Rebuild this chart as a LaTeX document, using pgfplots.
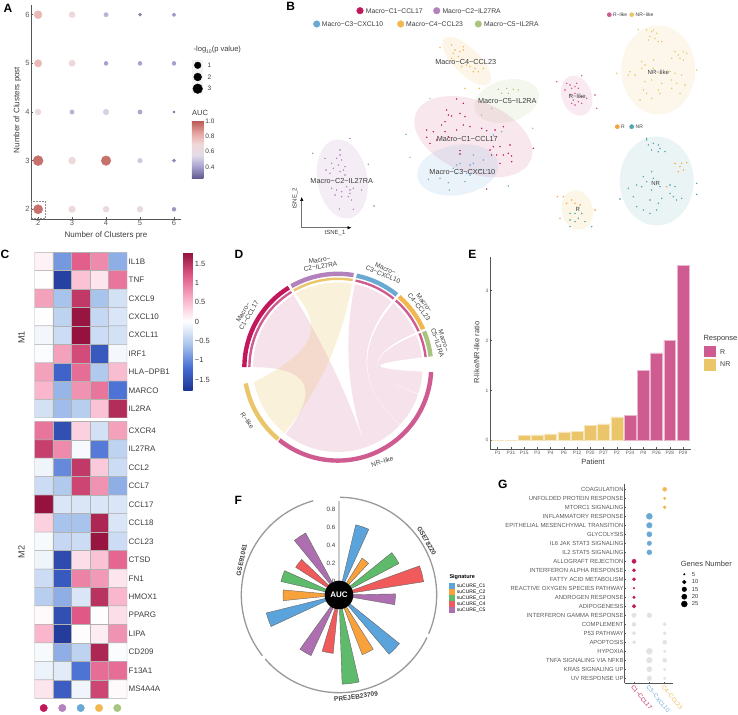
\documentclass[border=0pt]{standalone}
\usepackage{fontspec}
\setmainfont{Liberation Sans}
\usepackage{pgfplots}
\pgfplotsset{compat=1.18}
\usepgfplotslibrary{polar}
\usetikzlibrary{arrows.meta}

\definecolor{c1}{RGB}{194,24,91}
\definecolor{c2}{RGB}{179,129,188}
\definecolor{c3}{RGB}{106,169,211}
\definecolor{c4}{RGB}{242,184,79}
\definecolor{c5}{RGB}{169,196,127}
\definecolor{rl}{RGB}{207,92,145}
\definecolor{nrl}{RGB}{235,197,106}
\definecolor{ror}{RGB}{249,162,60}
\definecolor{nrt}{RGB}{82,163,174}
\definecolor{txt}{RGB}{60,60,60}
\definecolor{tck}{RGB}{90,90,90}
\definecolor{axl}{RGB}{85,85,85}
\definecolor{hmg}{RGB}{178,178,178}
\definecolor{greyd}{RGB}{226,226,226}
\definecolor{fb}{RGB}{91,163,219}
\definecolor{fo}{RGB}{249,162,60}
\definecolor{fg}{RGB}{93,187,107}
\definecolor{fr}{RGB}{240,90,90}
\definecolor{fp}{RGB}{173,111,176}

\newcommand{\fs}[1]{\fontsize{#1}{#1}\selectfont}

\pgfplotsset{
  /pgf/number format/assume math mode=true,
  every non boxed x axis/.append style={x axis line style=-},
  every non boxed y axis/.append style={y axis line style=-},
  colormap={auc}{rgb255=(95,90,140) rgb255=(165,160,205) rgb255=(225,220,232) rgb255=(240,215,215) rgb255=(228,160,155) rgb255=(185,90,85)},
  colormap={hm}{rgb255=(30,53,148) rgb255=(71,110,212) rgb255=(170,197,236) rgb255=(255,255,255) rgb255=(248,175,199) rgb255=(224,88,134) rgb255=(148,16,60)},
  sized/.style={only marks, mark=*,
    visualization depends on={\thisrow{r} \as \rr},
    scatter/@pre marker code/.append style={/tikz/mark size=\rr pt}},
  hm panel/.style={scale only axis, width=92.3pt, xmin=-0.5, xmax=4.5,
    y dir=reverse, xtick=\empty, ytick pos=right, axis line style={draw=none},
    major tick length=0pt, yticklabel style={font=\fs{8}, text=txt, inner sep=1.5pt},
    colormap name=hm, point meta min=-1.78, point meta max=1.79},
  cell/.style={matrix plot*, mesh/cols=5, point meta=explicit, draw=hmg, line width=0.5pt},
  legdot/.style={only marks, mark=*, mark size=#1pt},
}
\tikzset{pxs/.style={x=1pt,y=-1pt,yshift=714pt},
  lab/.style={text=txt,inner sep=0pt},
  letter/.style={font=\fs{12}\bfseries,inner sep=0pt}}
\newcommand{\ring}[5]{\draw[#5,line width=#4pt] (#1:#3) arc[start angle=#1,end angle=#2,radius=#3];}
\newcommand{\chord}[5]{\fill[#5,fill opacity=0.18] (#1:84.8) arc[start angle=#1,end angle=#2,radius=84.8]
  .. controls (#2:28.3) and (#3:28.3) .. (#3:84.8) arc[start angle=#3,end angle=#4,radius=84.8]
  .. controls (#4:28.3) and (#1:28.3) .. (#1:84.8) -- cycle;}

\begin{document}
\begin{tikzpicture}
\path[use as bounding box] (0,0) rectangle (738pt,714pt);

% A
\begin{axis}[at={(31.3pt,495pt)},anchor=south west,scale only axis,width=149.4pt,height=214pt,
  xmin=1.8,xmax=6.197,ymin=1.8,ymax=6.2,axis x line*=bottom,axis y line*=left,
  axis line style={color=axl,line width=0.9pt},xtick={2,...,6},ytick={2,...,6},
  tick style={color=axl,line width=0.5pt},major tick length=2pt,
  tick label style={font=\fs{7.5},text=tck,inner sep=1.5pt},
  colormap name=auc,point meta min=0.25,point meta max=1,clip=false,
  colorbar,colorbar style={at={(1.0756,0.459)},anchor=north west,scale only axis,width=11.3pt,height=57.6pt,
    ytick={0.4,0.6,0.8,1},yticklabels={0.4,0.6,0.8,1.0},axis line style={draw=none},major tick length=0pt,
    yticklabel style={font=\fs{6.5},text=txt,inner sep=2pt}}]
\addplot[scatter,point meta=explicit,scatter/use mapped color={draw=mapped color,fill=mapped color},sized] table[x=x,y=y,meta=auc]{
x y r auc
2 6 4.0 0.78
3 6 3.0 0.68
4 6 2.2 0.45
5 6 1.5 0.33
6 6 1.8 0.38
2 5 3.7 0.78
3 5 3.2 0.68
4 5 2.0 0.40
5 5 2.0 0.40
6 5 2.0 0.40
2 4 3.0 0.64
3 4 2.2 0.45
4 4 2.8 0.52
5 4 2.2 0.42
6 4 1.2 0.30
2 3 5.0 0.95
3 3 3.5 0.68
4 3 4.8 0.95
5 3 2.3 0.50
6 3 1.6 0.35
2 2 4.6 0.95
3 2 3.3 0.67
4 2 3.0 0.64
5 2 3.0 0.62
6 2 2.0 0.38
};
\end{axis}

% B ellipses
\begin{scope}[pxs]
  \fill[c4,fill opacity=0.13,rotate around={-45:(466.7,61)}] (466.7,61) ellipse[x radius=32,y radius=13];
  \fill[c5,fill opacity=0.13,rotate around={15:(506.7,101)}] (506.7,101) ellipse[x radius=33,y radius=21];
  \fill[c1,fill opacity=0.1,rotate around={-22:(473.3,136.7)}] (473.3,136.7) ellipse[x radius=62,y radius=36];
  \fill[c3,fill opacity=0.14,rotate around={10:(457.7,170)}] (457.7,170) ellipse[x radius=41,y radius=25];
  \fill[c2,fill opacity=0.14,rotate around={10:(342.3,179)}] (342.3,179) ellipse[x radius=25,y radius=40];
  \fill[rl,fill opacity=0.13,rotate around={20:(576.7,95.7)}] (576.7,95.7) ellipse[x radius=15,y radius=20.5];
  \fill[nrl,fill opacity=0.14] (658.3,70) ellipse[x radius=37,y radius=44.5];
  \fill[nrl,fill opacity=0.16,rotate around={15:(577.3,210)}] (577.3,210) ellipse[x radius=15.5,y radius=20];
  \fill[nrt,fill opacity=0.12] (656.7,181) ellipse[x radius=37,y radius=44.5];
\end{scope}

% B points, read in a 3x grid of the panel
\begin{axis}[at={(270pt,474pt)},anchor=south west,scale only axis,width=468pt,height=240pt,
  xmin=0,xmax=1404,ymin=0,ymax=720,y dir=reverse,hide axis,clip=false]
\addplot[legdot=0.5,color=c1] coordinates {(530,330)(560,297)(580,310)(535,345)(515,375)(570,340)(585,350)(545,348)(525,365)(470,390)(490,395)(470,412)(525,395)(580,375)(600,380)(635,385)(650,392)(675,390)(700,380)(670,440)(690,440)(660,450)(680,465)(700,465)(725,468)(720,435)(665,465)(690,490)(725,485)(715,460)(790,445)(650,567)(570,452)(570,462)(535,410)(500,420)(560,390)(480,430)};
\addplot[legdot=0.5,color=c3] coordinates {(408,403)(475,538)(510,535)(535,548)(538,570)(570,490)(610,465)(600,495)(560,495)(590,520)(560,520)(630,510)(650,510)(660,520)(695,395)(715,558)(670,405)(585,545)(600,525)(610,490)(550,505)(640,480)};
\addplot[legdot=0.5,color=c2] coordinates {(240,415)(128,460)(210,450)(165,475)(185,490)(200,475)(215,480)(205,495)(190,505)(220,510)(168,510)(180,520)(225,525)(295,493)(185,565)(200,570)(215,575)(230,560)(240,570)(250,565)(195,585)(215,590)(235,590)(245,600)(208,627)(250,628)(312,618)(225,500)(210,465)(210,515)(240,580)(275,570)};
\addplot[legdot=0.5,color=c4] coordinates {(510,143)(545,135)(555,150)(570,155)(580,150)(565,170)(580,140)(550,160)(545,175)(575,200)(600,200)(615,205)(625,215)(610,215)(640,205)(590,195)(585,265)(628,265)};
\addplot[legdot=0.5,color=c5] coordinates {(480,295)(685,268)(710,265)(730,268)(745,270)(695,280)(715,280)(665,325)(635,345)(788,385)(660,300)(420,472)};
\addplot[legdot=0.5,color=rl] coordinates {(860,245)(935,227)(900,255)(915,260)(905,265)(885,270)(925,265)(900,285)(915,280)(935,290)(910,300)(925,305)(935,310)(915,315)(905,310)(950,295)(975,285)(980,325)(890,250)(920,250)};
\addplot[legdot=0.5,color=nrl] coordinates {(1105,88)(1130,90)(1145,95)(1160,100)(1140,110)(1155,115)(1175,125)(1165,125)(1135,120)(1150,90)(1215,155)(1240,155)(1230,175)(1225,165)(1250,160)(1205,175)(1240,180)(1115,185)(1125,195)(1150,180)(1080,215)(1095,225)(1115,205)(1150,205)(1170,220)(1075,225)(1125,245)(1145,240)(1120,270)(1130,280)(1175,250)(1165,270)(1205,240)(1220,250)(1245,255)(1235,225)(1215,220)(1200,215)(1280,210)(1040,220)(1110,300)(1145,295)(1170,280)(1205,265)(1230,280)};
\addplot[legdot=0.5,color=ror] coordinates {(862,590)(880,590)(905,600)(915,610)(890,610)(930,615)(975,630)(870,655)(1215,490)(1235,490)(1250,488)(1230,500)(1240,510)(1225,515)(1190,560)};
\addplot[legdot=0.5,color=nrt] coordinates {(900,640)(915,640)(935,640)(900,660)(925,655)(945,665)(915,665)(965,680)(900,680)(1130,420)(1150,430)(1135,435)(1165,435)(1170,445)(1185,455)(1145,450)(1165,455)(1130,415)(1075,565)(1100,555)(1120,530)(1130,545)(1145,515)(1150,535)(1115,560)(1145,570)(1170,560)(1090,590)(1100,620)(1120,630)(1140,600)(1165,610)(1175,595)(1200,580)(1210,590)(1235,595)(1220,600)(1200,555)(1215,560)(1140,640)(1280,550)(1280,583)(1050,597)(1160,630)};
\end{axis}

% C heatmap, M1
\begin{axis}[hm panel,at={(34.7pt,296pt)},anchor=south west,height=165.7pt,ymin=-0.5,ymax=8.5,
  ytick={0,...,8},yticklabels={IL1B,TNF,CXCL9,CXCL10,CXCL11,IRF1,HLA−DPB1,MARCO,IL2RA},
  colorbar,colorbar style={at={(1.61,1)},anchor=north west,scale only axis,width=9.4pt,height=138pt,
    ytick={-1.5,-1,-0.5,0,0.5,1,1.5},yticklabels={−1.5,−1,−0.5,0,0.5,1,1.5},axis line style={draw=none},
    major tick length=0pt,yticklabel style={font=\fs{7.5},text=txt,inner sep=2pt}}]
\addplot[cell] coordinates {
(0,0)[0.1](1,0)[-0.9](2,0)[1.15](3,0)[0.85](4,0)[-0.75]
(0,1)[0](1,1)[-1.65](2,1)[0.45](3,1)[0.2](4,1)[1.0]
(0,2)[0.7](1,2)[-0.6](2,2)[1.45](3,2)[-0.6](4,2)[-0.3]
(0,3)[0](1,3)[-0.45](2,3)[1.75](3,3)[-0.4](4,3)[-0.25]
(0,4)[-0.08](1,4)[-0.35](2,4)[1.78](3,4)[-0.35](4,4)[-0.3]
(0,5)[-0.02](1,5)[0.7](2,5)[1.3](3,5)[-1.4](4,5)[-0.07]
(0,6)[0.7](1,6)[-1.3](2,6)[1.05](3,6)[-0.55](4,6)[0.5]
(0,7)[0.55](1,7)[-0.7](2,7)[0.8](3,7)[1.0](4,7)[-1.15]
(0,8)[-0.3](1,8)[-0.65](2,8)[-0.5](3,8)[0.45](4,8)[1.55]};
\end{axis}

% C heatmap, M2
\begin{axis}[hm panel,at={(34.7pt,15.7pt)},anchor=south west,height=277pt,ymin=-0.5,ymax=14.5,
  ytick={0,...,14},yticklabels={CXCR4,IL27RA,CCL2,CCL7,CCL17,CCL18,CCL23,CTSD,FN1,HMOX1,PPARG,LIPA,CD209,F13A1,MS4A4A}]
\addplot[cell] coordinates {
(0,0)[1.0](1,0)[-1.5](2,0)[0.35](3,0)[-0.3](4,0)[0.7]
(0,1)[1.4](1,1)[0.85](2,1)[-0.06](3,1)[-1.1](4,1)[-0.45]
(0,2)[-0.1](1,2)[-1.0](2,2)[1.45](3,2)[0.4](4,2)[-0.35]
(0,3)[-0.35](1,3)[-0.55](2,3)[1.35](3,3)[0.8](4,3)[-0.75]
(0,4)[1.78](1,4)[-0.25](2,4)[-0.25](3,4)[-0.25](4,4)[-0.25]
(0,5)[0.35](1,5)[-0.6](2,5)[-0.6](3,5)[1.6](4,5)[-0.25]
(0,6)[-0.05](1,6)[-0.4](2,6)[-0.35](3,6)[1.75](4,6)[-0.35]
(0,7)[-0.1](1,7)[-1.55](2,7)[0.25](3,7)[0.45](4,7)[1.1]
(0,8)[-0.35](1,8)[-1.4](2,8)[0.9](3,8)[0.75](4,8)[0.2]
(0,9)[-0.5](1,9)[-0.75](2,9)[-0.25](3,9)[1.5](4,9)[0.55]
(0,10)[0.05](1,10)[-1.5](2,10)[1.2](3,10)[0](4,10)[0.25]
(0,11)[0.55](1,11)[-1.7](2,11)[0.03](3,11)[0.15](4,11)[0.8]
(0,12)[-0.05](1,12)[-0.75](2,12)[-0.45](3,12)[1.6](4,12)[-0.02]
(0,13)[-0.12](1,13)[-0.2](2,13)[-1.15](3,13)[1.05](4,13)[1.05]
(0,14)[0.2](1,14)[-1.35](2,14)[-0.1](3,14)[1.35](4,14)[0.05]};
\end{axis}

% D chord diagram
\begin{scope}[pxs,shift={(337.8,367.2)},x=1pt,y=1pt]
  \chord{121.6}{180}{232}{289.2}{rl}
  \chord{78.4}{50.8}{-43.2}{-70.8}{rl}
  \chord{49}{24}{-18.5}{-42.8}{rl}
  \chord{22.5}{6.6}{-3}{-18.1}{rl}
  % C2 to R-like, its left edge bulges further in than the others
  \fill[nrl,fill opacity=0.24] (119.8:84.8) arc[start angle=119.8,end angle=80.3,radius=84.8]
    .. controls (80.3:28.3) and (231:28.3) .. (231:84.8) arc[start angle=231,end angle=190,radius=84.8]
    .. controls (-12,21) and (-20,45) .. (119.8:84.8) -- cycle;
  \ring{180}{121.6}{93.4}{4.4}{c1}
  \ring{119.8}{80.3}{93.4}{4.4}{c2}
  \ring{78.4}{50.8}{93.4}{4.4}{c3}
  \ring{49}{24}{93.4}{4.4}{c4}
  \ring{22.5}{6.6}{93.4}{4.4}{c5}
  \ring{-3}{-128.8}{93.4}{4.4}{rl}
  \ring{-129.6}{-170}{93.4}{4.4}{nrl}
  \ring{180}{121.6}{88.4}{2.4}{rl}
  \ring{119.8}{80.3}{88.4}{2.4}{nrl}
  \ring{78.4}{50.8}{88.4}{2.4}{rl}
  \ring{49}{24}{88.4}{2.4}{rl}
  \ring{22.5}{6.6}{88.4}{2.4}{rl}
\end{scope}

% E bars
\begin{axis}[at={(490pt,264.7pt)},anchor=south west,scale only axis,width=200.7pt,height=192pt,
  xmin=-0.58,xmax=14.58,ymin=-0.18,ymax=3.667,axis x line*=bottom,axis y line*=left,
  axis line style={color=axl,line width=1pt},tick style={color=axl,line width=0.4pt},major tick length=1.8pt,
  xtick={0,...,14},xticklabels={P1,P31,P15,P3,P4,P6,P12,P20,P27,P2,P24,P8,P26,P28,P29},
  ytick={0,1,2,3},tick label style={font=\fs{4.8},text=tck,inner sep=1.5pt},clip=false]
\addplot[ybar,bar width=11.9pt,fill=nrl,draw=nrl!45!white,line width=0.5pt] coordinates {(0,0)(1,0)(2,0.10)(3,0.11)(4,0.13)(5,0.17)(6,0.18)(7,0.30)(8,0.33)(9,0.47)};
\addplot[ybar,bar width=11.9pt,fill=rl,draw=rl!45!white,line width=0.5pt] coordinates {(10,0.50)(11,1.40)(12,1.75)(13,2.00)(14,3.50)};
\end{axis}

% F rose bars
\begin{scope}[pxs]
  \draw[black!20,line width=1.3pt] (339,595) -- (339,501);
\end{scope}
\begin{polaraxis}[at={(339pt,119pt)},anchor=center,scale only axis,width=180pt,height=180pt,
  xmin=0,xmax=360,ymin=0,ymax=1,hide axis,clip=false,y filter/.expression={y+0.152}]
\pgfplotsset{w/.style={draw=black!60,line width=0.4pt}}
\addplot[w,fill=fb] coordinates {(65.6,0)(65.6,0.65)(71.1,0.65)(76.6,0.65)(76.6,0)} --cycle;
\addplot[w,fill=fo] coordinates {(47,0)(47,0.33)(52.5,0.33)(58,0.33)(58,0)} --cycle;
\addplot[w,fill=fg] coordinates {(27.7,0)(27.7,0.60)(33.2,0.60)(38.7,0.60)(38.7,0)} --cycle;
\addplot[w,fill=fr] coordinates {(8.9,0)(8.9,0.80)(14.4,0.80)(19.9,0.80)(19.9,0)} --cycle;
\addplot[w,fill=fp] coordinates {(350.1,0)(350.1,0.475)(355.6,0.475)(361.1,0.475)(361.1,0)} --cycle;
\addplot[w,fill=fb] coordinates {(310.2,0)(310.2,0.71)(315.7,0.71)(321.2,0.71)(321.2,0)} --cycle;
\addplot[w,fill=fo] coordinates {(291.3,0)(291.3,0.56)(296.8,0.56)(302.3,0.56)(302.3,0)} --cycle;
\addplot[w,fill=fg] coordinates {(272,0)(272,0.84)(277.5,0.84)(283,0.84)(283,0)} --cycle;
\addplot[w,fill=fr] coordinates {(253.3,0)(253.3,0.50)(258.8,0.50)(264.3,0.50)(264.3,0)} --cycle;
\addplot[w,fill=fp] coordinates {(234.2,0)(234.2,0.59)(239.7,0.59)(245.2,0.59)(245.2,0)} --cycle;
\addplot[w,fill=fb] coordinates {(193.9,0)(193.9,0.68)(199.4,0.68)(204.9,0.68)(204.9,0)} --cycle;
\addplot[w,fill=fo] coordinates {(174.8,0)(174.8,0.47)(180.3,0.47)(185.8,0.47)(185.8,0)} --cycle;
\addplot[w,fill=fg] coordinates {(155.9,0)(155.9,0.51)(161.4,0.51)(166.9,0.51)(166.9,0)} --cycle;
\addplot[w,fill=fr] coordinates {(136.4,0)(136.4,0.42)(141.9,0.42)(147.4,0.42)(147.4,0)} --cycle;
\addplot[w,fill=fp] coordinates {(118.3,0)(118.3,0.63)(123.8,0.63)(129.3,0.63)(129.3,0)} --cycle;
\end{polaraxis}
\begin{scope}[pxs,shift={(339,595)},x=1pt,y=1pt]
  \ring{89.5}{-23.4}{97.7}{1.3}{black!40}
  \ring{-25.8}{-139}{97.7}{1.3}{black!40}
  \ring{-141.6}{-254.7}{97.7}{1.3}{black!40}
  \fill[black] (0,0) circle[radius=14.3];
  \node[font=\fs{8}\bfseries,text=white,inner sep=0pt] at (0,0) {AUC};
\end{scope}

% G dot plot
\begin{axis}[at={(624.7pt,30.7pt)},anchor=south west,scale only axis,width=48.6pt,height=199.3pt,
  xmin=-0.61,xmax=2.565,ymin=-0.59,ymax=21.56,y dir=reverse,axis x line*=bottom,axis y line*=left,
  axis line style={color=axl,line width=0.8pt},tick style={color=axl,line width=0.4pt},major tick length=1.5pt,
  xtick={0,1,2},xticklabels={\textcolor{c1}{C1−CCL17},\textcolor{c3}{C3−CXCL10},\textcolor{c4}{C4−CCL23}},
  xticklabel style={font=\fs{5.8},rotate=-50,anchor=north west,inner sep=1pt},
  ytick={0,...,21},yticklabels={COAGULATION,UNFOLDED PROTEIN RESPONSE,MTORC1 SIGNALING,INFLAMMATORY RESPONSE,EPITHELIAL MESENCHYMAL TRANSITION,GLYCOLYSIS,IL6 JAK STAT3 SIGNALING,IL2 STAT5 SIGNALING,ALLOGRAFT REJECTION,INTERFERON ALPHA RESPONSE,FATTY ACID METABOLISM,REACTIVE OXYGEN SPECIES PATHWAY,ANDROGEN RESPONSE,ADIPOGENESIS,INTERFERON GAMMA RESPONSE,COMPLEMENT,P53 PATHWAY,APOPTOSIS,HYPOXIA,TNFA SIGNALING VIA NFKB,KRAS SIGNALING UP,UV RESPONSE UP},
  yticklabel style={font=\fs{5.9},text=tck,inner sep=1pt},clip=false]
\addplot[scatter,scatter/use mapped color={draw=greyd,fill=greyd},sized] table {
x y r
0 14 2.2
1 14 2.4
0 15 2.0
2 15 1.7
0 16 1.8
2 16 1.6
0 17 1.7
2 17 2.0
1 18 3.0
2 18 1.3
1 19 2.8
2 19 2.0
1 20 2.6
2 20 1.3
1 21 2.3
2 21 1.3
};
\addplot[scatter,scatter/use mapped color={draw=c4,fill=c4},sized] table {
x y r
2 0 2.0
2 1 1.3
2 2 1.5
};
\addplot[scatter,scatter/use mapped color={draw=c3,fill=c3},sized] table {
x y r
1 3 3.0
1 4 2.8
1 5 2.6
1 6 2.2
1 7 2.5
};
\addplot[scatter,scatter/use mapped color={draw=c1,fill=c1},sized] table {
x y r
0 8 2.1
0 9 1.6
0 10 1.6
0 11 0.8
0 12 1.3
0 13 1.8
};
\end{axis}

% legends' keys, in page pixels
\begin{scope}[pxs]
  \fill[black!5] (192,60) rectangle (203.3,94);
  \draw[black!45,densely dotted,line width=0.5pt] (31.3,201.3) rectangle (45.3,218.3);
  \fill[fb] (449.3,583) rectangle (455,589);
  \fill[fo] (449.3,589) rectangle (455,595);
  \fill[fg] (449.3,595) rectangle (455,601);
  \fill[fr] (449.3,601) rectangle (455,607);
  \fill[fp] (449.3,607) rectangle (455,613);
  \fill[rl] (704,345.7) rectangle (715.7,357.3);
  \fill[nrl] (704,359) rectangle (715.7,370.7);
\end{scope}
\begin{axis}[at={(0pt,0pt)},anchor=south west,scale only axis,width=738pt,height=714pt,
  xmin=0,xmax=738,ymin=0,ymax=714,y dir=reverse,hide axis,clip=false]
\addplot[legdot=3.3,color=black] coordinates {(197.7,65.3)};
\addplot[legdot=3.9,color=black] coordinates {(197.7,77)};
\addplot[legdot=4.8,color=black] coordinates {(197.7,88.7)};
\addplot[legdot=3.3,color=c1] coordinates {(360,10.7)};
\addplot[legdot=3.3,color=c2] coordinates {(436.7,10.7)};
\addplot[legdot=3.3,color=c3] coordinates {(316.7,24)};
\addplot[legdot=3.3,color=c4] coordinates {(400.7,24)};
\addplot[legdot=3.3,color=c5] coordinates {(478.3,24)};
\addplot[legdot=2.1,color=rl] coordinates {(609.3,14.7)};
\addplot[legdot=2.1,color=nrl] coordinates {(631.7,14.7)};
\addplot[legdot=2.1,color=ror] coordinates {(617.3,126.7)};
\addplot[legdot=2.1,color=nrt] coordinates {(631.7,126.7)};
\addplot[legdot=3.7,color=c1] coordinates {(43.7,708)};
\addplot[legdot=3.7,color=c2] coordinates {(62.3,708)};
\addplot[legdot=3.7,color=c3] coordinates {(80.7,708)};
\addplot[legdot=3.7,color=c4] coordinates {(99,708)};
\addplot[legdot=3.7,color=c5] coordinates {(117.3,708)};
\addplot[legdot=0.8,color=black] coordinates {(684.3,574.3)};
\addplot[legdot=1.9,color=black] coordinates {(684.3,582)};
\addplot[legdot=2.3,color=black] coordinates {(684.3,589.3)};
\addplot[legdot=2.6,color=black] coordinates {(684.3,596.7)};
\addplot[legdot=3.0,color=black] coordinates {(684.3,604)};
\end{axis}

% all the words, in page pixels
\begin{scope}[pxs]
  \node[letter] at (8,8) {A};
  \node[letter] at (290.7,6.7) {B};
  \node[letter] at (5,254) {C};
  \node[letter] at (239,254) {D};
  \node[letter] at (472.3,254) {E};
  \node[letter] at (238.3,500) {F};
  \node[letter] at (502.7,484) {G};
  % A
  \node[lab,font=\fs{8}] at (106,235) {Number of Clusters pre};
  \node[lab,font=\fs{8},rotate=90] at (17.3,110) {Number of Clusters post};
  \node[lab,font=\fs{7.5},anchor=west] at (193.5,50) {-log\raisebox{-1.2pt}{\fs{5}10}(p value)};
  \node[lab,font=\fs{6.5},anchor=west] at (207.5,65.3) {1};
  \node[lab,font=\fs{6.5},anchor=west] at (207.5,77) {2};
  \node[lab,font=\fs{6.5},anchor=west] at (207.5,88.7) {3};
  \node[lab,font=\fs{7.5},anchor=west] at (192,113) {AUC};
  % B
  \node[lab,font=\fs{6.8},anchor=west] at (365.7,10.7) {Macro−C1−CCL17};
  \node[lab,font=\fs{6.8},anchor=west] at (442.3,10.7) {Macro−C2−IL27RA};
  \node[lab,font=\fs{6.8},anchor=west] at (321.7,24) {Macro−C3−CXCL10};
  \node[lab,font=\fs{6.8},anchor=west] at (406,24) {Macro−C4−CCL23};
  \node[lab,font=\fs{6.8},anchor=west] at (484,24) {Macro−C5−IL2RA};
  \node[lab,font=\fs{5},anchor=west] at (613,14.7) {R−like};
  \node[lab,font=\fs{5},anchor=west] at (635.5,14.7) {NR−like};
  \node[lab,font=\fs{5},anchor=west] at (621,126.7) {R};
  \node[lab,font=\fs{5},anchor=west] at (635.5,126.7) {NR};
  \node[lab,font=\fs{7.3}] at (465.7,61.7) {Macro−C4−CCL23};
  \node[lab,font=\fs{7.3}] at (507.3,101) {Macro−C5−IL2RA};
  \node[lab,font=\fs{7.3}] at (467.3,138.7) {Macro−C1−CCL17};
  \node[lab,font=\fs{7.3}] at (462.3,171.7) {Macro−C3−CXCL10};
  \node[lab,font=\fs{7.3}] at (341.7,180.7) {Macro−C2−IL27RA};
  \node[lab,font=\fs{6}] at (577.3,96) {R−like};
  \node[lab,font=\fs{6}] at (658.3,72.3) {NR−like};
  \node[lab,font=\fs{6}] at (577.7,209) {R};
  \node[lab,font=\fs{6}] at (655.7,183) {NR};
  \draw[black!55,line width=0.5pt,-{Latex[black,length=4pt,width=3.5pt]}] (301.7,227.7) -- (301.7,197);
  \draw[black!55,line width=0.5pt,-{Latex[black,length=4pt,width=3.5pt]}] (301.7,227.7) -- (351.5,227.7);
  \node[lab,font=\fs{6},rotate=90] at (295,198.5) {tSNE\_2};
  \node[lab,font=\fs{6}] at (335,233.5) {tSNE\_1};
  % C
  \node[lab,font=\fs{9},rotate=90] at (21.6,337.7) {M1};
  \node[lab,font=\fs{9},rotate=90] at (21.6,552) {M2};
  % D
  \node[lab,font=\fs{6.5},rotate=60,align=center] at (246,314) {Macro−\\C1−CCL17};
  \node[lab,font=\fs{6.5},rotate=8,align=center] at (320,263.3) {Macro−\\C2−IL27RA};
  \node[lab,font=\fs{6.5},rotate=-22,align=center] at (384.3,271.7) {Macro−\\C3−CXCL10};
  \node[lab,font=\fs{6.5},rotate=-52,align=center] at (421.7,305) {Macro−\\C4−CCL23};
  \node[lab,font=\fs{6.5},rotate=-72,align=center] at (440.7,341.7) {Macro−\\C5−IL2RA};
  \node[lab,font=\fs{6.5},rotate=-55] at (247.3,420.7) {R−like};
  \node[lab,font=\fs{6.5},rotate=18] at (382.3,461.7) {NR−like};
  % E
  \node[lab,font=\fs{7.5}] at (593,462) {Patient};
  \node[lab,font=\fs{7.5},rotate=90] at (476.7,352.7) {R-like/NR-like ratio};
  \node[lab,font=\fs{7.5},anchor=west] at (703.3,338.3) {Response};
  \node[lab,font=\fs{7},anchor=west] at (720,351.7) {R};
  \node[lab,font=\fs{7},anchor=west] at (720,364.5) {NR};
  % F
  \node[lab,font=\fs{6.2},anchor=east] at (335.5,509.3) {0.8};
  \node[lab,font=\fs{6.2},anchor=east] at (335.5,527.3) {0.6};
  \node[lab,font=\fs{6.2},anchor=east] at (335.5,545.3) {0.4};
  \node[lab,font=\fs{6.2},anchor=east] at (335.5,563.3) {0.2};
  \node[lab,font=\fs{6.2},anchor=east] at (335.5,581.3) {0};
  \node[lab,font=\fs{6.5}\bfseries,rotate=-60] at (426.7,540.7) {GSE78220};
  \node[lab,font=\fs{6.5}\bfseries,rotate=78] at (241.7,560) {GSE91061};
  \node[lab,font=\fs{6.5}\bfseries,rotate=8] at (356,696.7) {PREJEB23709};
  \node[lab,font=\fs{5.5}\bfseries,text=black,anchor=west] at (449.3,577.3) {Signature};
  \node[lab,font=\fs{5},text=black,anchor=west] at (456.7,585.8) {suCURE\_C1};
  \node[lab,font=\fs{5},text=black,anchor=west] at (456.7,592) {suCURE\_C2};
  \node[lab,font=\fs{5},text=black,anchor=west] at (456.7,598) {suCURE\_C3};
  \node[lab,font=\fs{5},text=black,anchor=west] at (456.7,604) {suCURE\_C4};
  \node[lab,font=\fs{5},text=black,anchor=west] at (456.7,610.2) {suCURE\_C5};
  % G
  \node[lab,font=\fs{7.5},anchor=west] at (680.7,564) {Genes Number};
  \node[lab,font=\fs{5.8},anchor=west] at (691.7,574.3) {5};
  \node[lab,font=\fs{5.8},anchor=west] at (691.7,582) {10};
  \node[lab,font=\fs{5.8},anchor=west] at (691.7,589.3) {15};
  \node[lab,font=\fs{5.8},anchor=west] at (691.7,596.7) {20};
  \node[lab,font=\fs{5.8},anchor=west] at (691.7,604) {25};
\end{scope}
\end{tikzpicture}
\end{document}
